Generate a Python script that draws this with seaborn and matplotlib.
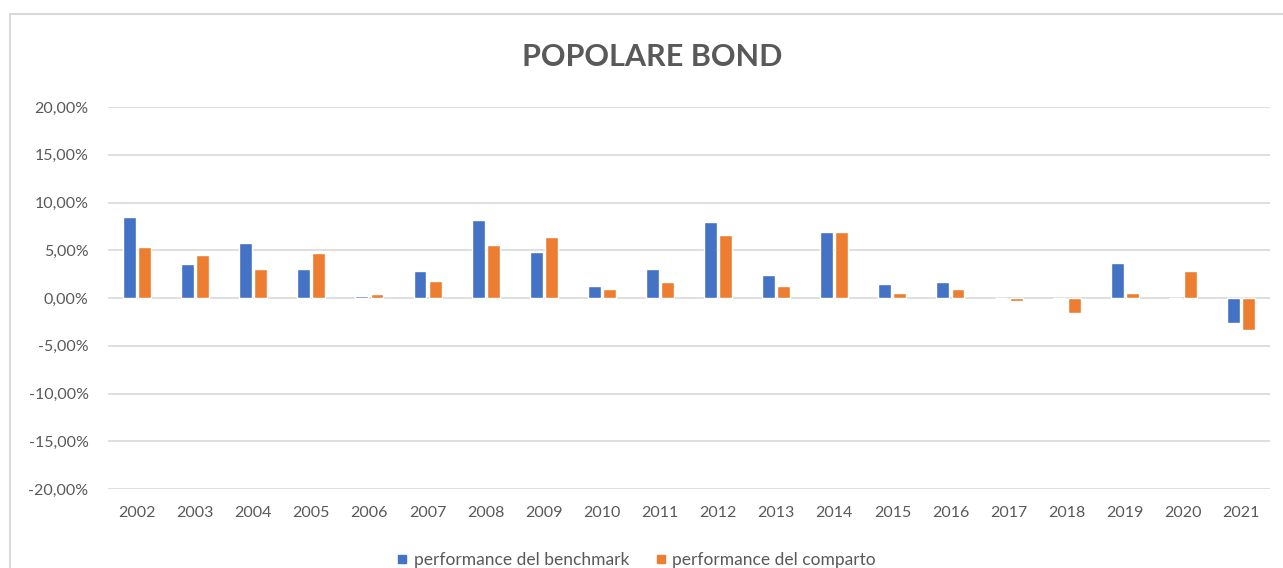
import numpy as np
import pandas as pd
import seaborn as sns
import matplotlib.pyplot as plt
from matplotlib.patches import Rectangle
from matplotlib.lines import Line2D
from matplotlib.ticker import FuncFormatter

# values (percent)
anni = ["2002", "2003", "2004", "2005", "2006", "2007", "2008", "2009", "2010", "2011",
        "2012", "2013", "2014", "2015", "2016", "2017", "2018", "2019", "2020", "2021"]
benchmark = [8.5, 3.55, 5.75, 3.0, 0.25, 2.8, 8.15, 4.85, 1.25, 3.05,
             7.95, 2.45, 6.95, 1.45, 1.65, 0.0, 0.0, 3.65, 0.0, -2.6]
comparto = [5.35, 4.55, 3.0, 4.75, 0.45, 1.8, 5.55, 6.35, 0.9, 1.65,
            6.6, 1.25, 6.95, 0.5, 0.9, -0.35, -1.6, 0.5, 2.85, -3.4]
serie = ["performance del benchmark", "performance del comparto"]
colori = ["#4472C4", "#ED7D31"]

df = pd.DataFrame({
    "anno": anni * 2,
    "valore": benchmark + comparto,
    "serie": [serie[0]] * len(anni) + [serie[1]] * len(anni),
})

sns.set_style("white")
plt.rcParams['font.family'] = ['Lato', 'DejaVu Sans']
grigio = "#595959"

fig = plt.figure(figsize=(12.83, 5.68), dpi=100)
# chart frame
fig.patches.append(Rectangle((10 / 1283, -0.1), 1.2, 1 - 14 / 568 + 0.1,
                             transform=fig.transFigure, fill=False,
                             edgecolor="#D9D9D9", linewidth=1.5))
ax = fig.add_axes([108 / 1283, 1 - 489 / 568, 1162 / 1283, 382 / 568])

sns.barplot(data=df, x="anno", y="valore", hue="serie", ax=ax,
            palette=colori, width=0.52, gap=0.15,
            saturation=1, errorbar=None, legend=False)

ax.set_ylim(-20, 20)
ax.set_xlim(-0.5, len(anni) - 0.5)
ax.set_yticks(np.arange(-20, 21, 5))
ax.yaxis.set_major_formatter(FuncFormatter(lambda v, p: f"{v:.2f}%".replace(".", ",")))
ax.grid(axis="y", color="#D9D9D9", linewidth=1.2)
ax.set_axisbelow(True)
for s in ax.spines.values():
    s.set_visible(False)
ax.tick_params(axis="both", length=0, labelsize=11.5, colors=grigio, pad=14)
ax.tick_params(axis="x", pad=12)
ax.set_xlabel("")
ax.set_ylabel("")

handles = [Line2D([], [], marker="s", linestyle="", color=c, markersize=6) for c in colori]
fig.legend(handles, serie, loc="center", bbox_to_anchor=(637 / 1283, 1 - 560 / 568),
           ncol=2, frameon=False, fontsize=12.5, labelcolor=grigio,
           handlelength=0.5, handletextpad=0.4, columnspacing=1.6)

fig.text(652 / 1283, 1 - 57 / 568, "POPOLARE BOND", ha="center", va="center",
         fontsize=22, fontweight="bold", color=grigio)

fig.savefig("out.png", dpi=100, facecolor="white")
